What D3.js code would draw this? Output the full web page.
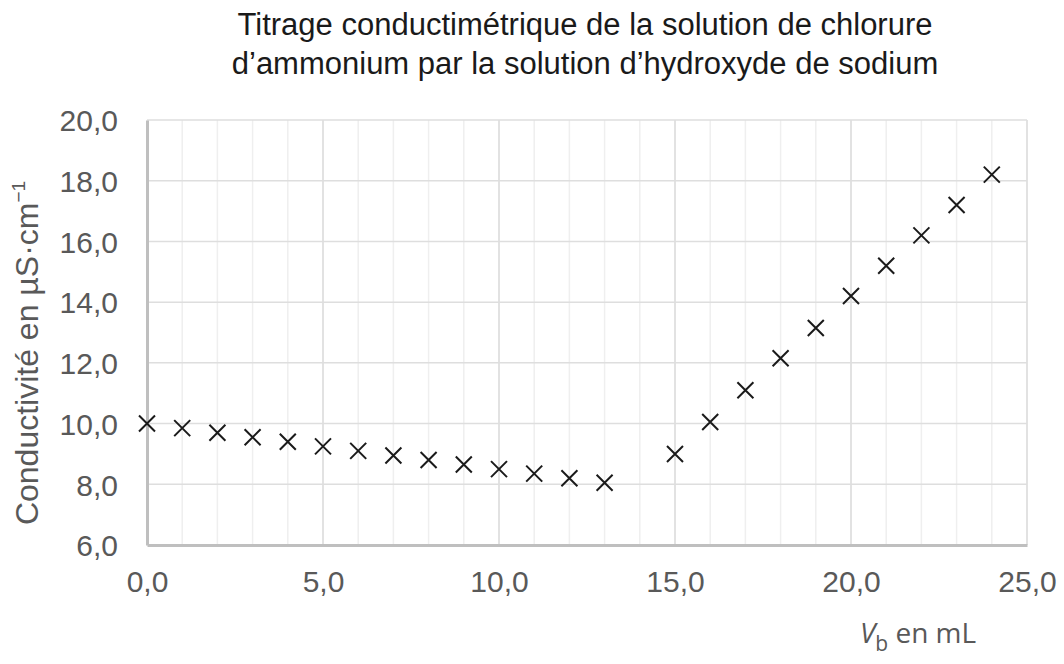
<!DOCTYPE html>
<html>
<head>
<meta charset="utf-8">
<script src="https://cdn.jsdelivr.net/npm/d3@7"></script>
<style>
  body { margin: 0; background: #fff; }
  svg { display: block; }
</style>
</head>
<body>
<div id="chart"></div>
<script>
// Volume de soude versé (mL) et conductivité mesurée (µS·cm-1)
const volumes = [0, 1, 2, 3, 4, 5, 6, 7, 8, 9, 10, 11, 12, 13, 15, 16, 17, 18, 19, 20, 21, 22, 23, 24];
const conductivities = [10.0, 9.85, 9.7, 9.55, 9.4, 9.25, 9.1, 8.95, 8.8, 8.65, 8.5, 8.35, 8.2, 8.05,
                        9.0, 10.05, 11.1, 12.15, 13.15, 14.2, 15.2, 16.2, 17.2, 18.2];
const xTicks = [0, 5, 10, 15, 20, 25];
const yTicks = [6, 8, 10, 12, 14, 16, 18, 20];
const titleLines = ['Titrage conductimétrique de la solution de chlorure',
                    'd\u2019ammonium par la solution d\u2019hydroxyde de sodium'];

const width = 1064, height = 664;
const margin = { top: 120, right: 37, bottom: 119, left: 147 };
const fmt = d => d3.format('.1f')(d).replace('.', ',');

const svg = d3.select('#chart').append('svg')
    .attr('width', width)
    .attr('height', height);

const x = d3.scaleLinear().domain([0, 25]).range([margin.left, width - margin.right]);
const y = d3.scaleLinear().domain([6, 20]).range([height - margin.bottom, margin.top]);

// Minor vertical grid (every 1 mL), a bit darker every 5 mL
svg.append('g')
    .selectAll('line')
    .data(d3.range(1, 26))
    .enter()
    .append('line')
    .attr('x1', d => x(d)).attr('x2', d => x(d))
    .attr('y1', y(6)).attr('y2', y(20))
    .attr('stroke', d => d % 5 === 0 ? '#d9d9d9' : '#efefef')
    .attr('stroke-width', 1.5);

// Horizontal grid
svg.append('g')
    .selectAll('line')
    .data(yTicks.slice(1))
    .enter()
    .append('line')
    .attr('x1', x(0)).attr('x2', x(25))
    .attr('y1', d => y(d)).attr('y2', d => y(d))
    .attr('stroke', '#dedede')
    .attr('stroke-width', 1.5);

// Axes
const xAxis = svg.append('g')
    .attr('transform', `translate(0,${y(6)})`)
    .call(d3.axisBottom(x).tickValues(xTicks).tickFormat(fmt).tickSize(0).tickPadding(26));
const yAxis = svg.append('g')
    .attr('transform', `translate(${x(0)},0)`)
    .call(d3.axisLeft(y).tickValues(yTicks).tickFormat(fmt).tickSize(0).tickPadding(29));

[xAxis, yAxis].forEach(g => {
    g.select('.domain').attr('stroke', '#bfbfbf').attr('stroke-width', 3);
    g.selectAll('text')
        .attr('font-family', 'Liberation Sans, Arial, sans-serif')
        .attr('font-size', 30)
        .attr('fill', '#595959');
});
xAxis.selectAll('text').attr('dy', '0.71em');
yAxis.selectAll('text').attr('dy', '0.36em');

// Data markers (crosses)
const s = 8;
svg.append('g')
    .selectAll('path')
    .data(volumes.map((v, i) => [v, conductivities[i]]))
    .enter()
    .append('path')
    .attr('d', d => {
        const cx = x(d[0]), cy = y(d[1]);
        return `M${cx - s},${cy - s}L${cx + s},${cy + s}M${cx - s},${cy + s}L${cx + s},${cy - s}`;
    })
    .attr('stroke', '#1a1a1a')
    .attr('stroke-width', 2);

// Title
svg.append('text')
    .attr('text-anchor', 'middle')
    .attr('font-family', 'Liberation Sans, Arial, sans-serif')
    .attr('font-size', 31)
    .attr('fill', '#1a1a1a')
    .selectAll('tspan')
    .data(titleLines)
    .enter()
    .append('tspan')
    .attr('x', 585)
    .attr('y', (d, i) => 35 + i * 39)
    .text(d => d);

// Y axis title
svg.append('text')
    .attr('transform', `translate(38,353) rotate(-90)`)
    .attr('text-anchor', 'middle')
    .attr('font-family', 'Liberation Sans, Arial, sans-serif')
    .attr('font-size', 32)
    .attr('fill', '#595959')
    .html('Conductivité en µS·cm<tspan dy="-13" font-size="19">\u22121</tspan>');

// X axis title
const xt = svg.append('text')
    .attr('x', 918)
    .attr('y', 643)
    .attr('text-anchor', 'middle')
    .attr('font-family', 'Open Sans, sans-serif')
    .attr('font-size', 28)
    .attr('fill', '#595959');
xt.append('tspan').attr('font-style', 'italic').text('V');
xt.append('tspan').attr('dy', 8).attr('font-size', 21).text('b');
xt.append('tspan').attr('dy', -8).text(' en mL');
</script>
</body>
</html>
